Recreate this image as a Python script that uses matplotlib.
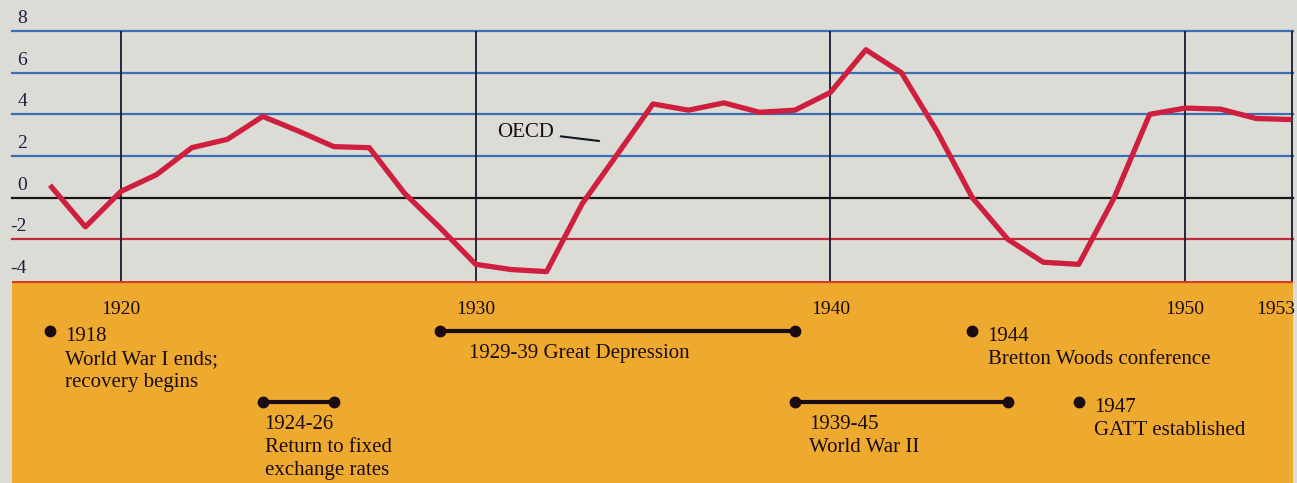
import matplotlib.pyplot as plt

# OECD output growth, 1918-1953
years = list(range(1918, 1954))
oecd = [0.6, -1.4, 0.3, 1.1, 2.4, 2.8, 3.9, 3.2, 2.45, 2.4,
        0.2, -1.45, -3.2, -3.45, -3.55, -0.3, 2.1, 4.5, 4.2, 4.55,
        4.1, 4.2, 5.05, 7.1, 6.0, 3.2, 0.0, -2.0, -3.1, -3.2,
        0.0, 4.0, 4.3, 4.25, 3.8, 3.75]

ytick_vals = [8, 6, 4, 2, 0, -2, -4]
xtick_vals = [1920, 1930, 1940, 1950, 1953]

# timeline events
point_years = [1918, 1944, 1947]
point_titles = ['1918', '1944', '1947']
point_texts = [['World War I ends;', 'recovery begins'],
               ['Bretton Woods conference'],
               ['GATT established']]

span_starts = [1924, 1929, 1939]
span_ends = [1926, 1939, 1945]
span_texts = [['1924-26', 'Return to fixed', 'exchange rates'],
              ['1929-39 Great Depression'],
              ['1939-45', 'World War II']]

W, H = 1297, 483
grey = '#dcdcd7'
orange = '#eea92f'
ink = '#1a0c12'
serif = ['Liberation Serif', 'DejaVu Serif']

fig = plt.figure(figsize=(W / 100, H / 100), dpi=100)
fig.patch.set_facecolor(grey)

x0, x1 = 1916.93, 1953.04

#----- chart part -----
ax = fig.add_axes([12 / W, 202 / H, 1281 / W, 250 / H])
ax.set_facecolor(grey)
ax.set_xlim(x0, x1)
ax.set_ylim(-4, 8)
ax.set_xticks([])
ax.set_yticks([])
for s in ax.spines.values():
    s.set_visible(False)

line_cols = {8: '#3a6db2', 6: '#3a6db2', 4: '#3a6db2', 2: '#3a6db2',
             0: '#1c1414', -2: '#c4283e'}
for v in ytick_vals[:-1]:
    ax.axhline(v, color=line_cols[v], lw=1.6, zorder=1, clip_on=False)
for yr in [1920, 1930, 1940, 1950, 1953]:
    ax.axvline(yr, color='#181830', lw=1.3, zorder=1)

ax.plot(years, oecd, color='#cf1f3f', lw=3.8, solid_joinstyle='round',
        solid_capstyle='butt', zorder=3)

for v in ytick_vals:
    ax.annotate(str(v), xy=(1917.35, v), xytext=(0, 9), textcoords='offset points',
                ha='right', va='center', fontsize=14, color='#1a2040',
                family=serif, annotation_clip=False)

ax.annotate('OECD', xy=(1933.48, 2.72), xytext=(1930.6, 3.15),
            fontsize=15, family=serif, color=ink, ha='left', va='center',
            arrowprops=dict(arrowstyle='-', color='#101820', lw=1.5,
                            shrinkA=3, shrinkB=0))

#----- timeline part (y in pixel rows) -----
bx = fig.add_axes([12 / W, 0, 1281 / W, 202 / H])
bx.set_facecolor(orange)
bx.set_xlim(x0, x1)
bx.set_ylim(483, 281)
bx.set_xticks([])
bx.set_yticks([])
for s in bx.spines.values():
    s.set_visible(False)
bx.axhline(281.8, color='#dc3a1e', lw=1.6)

for yr in xtick_vals:
    xx = yr if yr != 1953 else 1952.55
    bx.text(xx, 314, str(yr), ha='center', va='baseline', fontsize=14,
            family=serif, color=ink)

tkw = dict(ha='left', va='baseline', fontsize=15, family=serif, color=ink)
dot_rows = [331, 331, 402]
for yr, ttl, lines, row in zip(point_years, point_titles, point_texts, dot_rows):
    bx.plot([yr], [row], 'o', color=ink, ms=7.5)
    bx.text(yr + 0.43, row + 10, ttl, **tkw)
    for i, t in enumerate(lines):
        bx.text(yr + 0.43, row + 33 + 23 * i, t, **tkw)

span_rows = [402, 331, 402]
span_pad = [0.05, 0.8, 0.4]
for a, b, lines, row, pad in zip(span_starts, span_ends, span_texts, span_rows, span_pad):
    bx.plot([a, b], [row, row], '-', color=ink, lw=3, solid_capstyle='butt')
    bx.plot([a, b], [row, row], 'o', color=ink, ms=7.5)
    for i, t in enumerate(lines):
        bx.text(a + pad, row + 27 + 23 * i, t, **tkw)

fig.savefig('out.png', dpi=100, facecolor=fig.get_facecolor())
